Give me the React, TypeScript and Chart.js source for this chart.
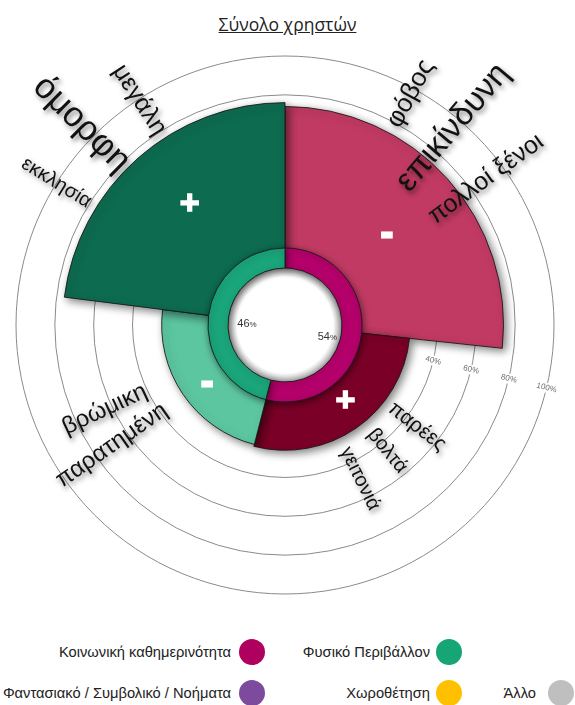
import React, { useEffect, useRef } from 'react';
import { Chart, registerables } from 'chart.js';
Chart.register(...registerables);

// ---------------- data ----------------
const sectorLabels = ['Κοινωνική καθημερινότητα (−)', 'Κοινωνική καθημερινότητα (+)', 'Φυσικό Περιβάλλον (−)', 'Φυσικό Περιβάλλον (+)'];
const sectorValues = [74, 26, 25, 76];          // radial value, % of users
const sectorShares = [26.7, 27.3, 23.0, 23.0];  // angular share of the circle, %
const sectorSigns = ['-', '+', '-', '+'];
const ringLabels = ['Κοινωνική καθημερινότητα', 'Φυσικό Περιβάλλον'];
const ringValues = [54, 46];
const tickValues = [20, 40, 60, 80, 100];
const wordTexts = ['όμορφη', 'μεγάλη', 'εκκλησία', 'φόβος', 'επικίνδυνη', 'πολλοί ξένοι', 'βρώμικη', 'παρατημένη', 'παρέες', 'βολτά', 'γειτονιά'];
const legendLabels = ['Κοινωνική καθημερινότητα', 'Φυσικό Περιβάλλον', 'Φαντασιακό / Συμβολικό / Νοήματα', 'Χωροθέτηση', 'Άλλο'];
const titleText = 'Σύνολο χρηστών';

// ---------------- styles / layout ----------------
const sectorColors = ['#c13a63', '#7a0027', '#5cc6a1', '#0d6b4f'];
const ringColors = ['#b5006b', '#1aa67a'];
const legendColors = ['#b0005f', '#16a574', '#7d4b9e', '#ffc000', '#bfbfbf'];
const FONT = '"Liberation Sans", Arial, sans-serif';
const scaleMin = -38.5;
const tickLabelAngle = 103.5;
const signLayout = [
  { angle: 48.4, value: 31.6, size: 34 },
  { angle: 141.8, value: 11.8, size: 34 },
  { angle: 232.9, value: 11.8, size: 34 },
  { angle: 321.6, value: 40.5, size: 34 },
];
const wordLayout = [
  { angle: 314.6, value: 108.7, size: 35 },
  { angle: 327.1, value: 99.5, size: 25 },
  { angle: 301.9, value: 100.1, size: 20 },
  { angle: 28.5, value: 97.0, size: 26 },
  { angle: 40.4, value: 94.9, size: 33 },
  { angle: 54.0, value: 89.4, size: 25 },
  { angle: 244.9, value: 64.0, size: 24 },
  { angle: 235.2, value: 70.2, size: 24 },
  { angle: 127.6, value: 47.3, size: 21 },
  { angle: 140.9, value: 45.0, size: 20 },
  { angle: 154.0, value: 49.5, size: 20 },
];
const pctLayout = [
  { angle: 105.6, dist: 44 },
  { angle: 271.5, dist: 38 },
];
const legendLayout = [
  { right: 231, cx: 252, cy: 652 },
  { right: 430, cx: 449, cy: 652 },
  { right: 231, cx: 252, cy: 693 },
  { right: 430, cx: 449, cy: 693 },
  { right: 536, cx: 561, cy: 693 },
];
const PAD = { left: 16, top: 16, right: 21, bottom: 26 };

const rad = (d: number) => (d * Math.PI) / 180;

function polarPoint(scale: any, angleDeg: number, value: number) {
  const d = scale.getDistanceFromCenterForValue(value);
  const a = rad(angleDeg - 90);
  return { x: scale.xCenter + Math.cos(a) * d, y: scale.yCenter + Math.sin(a) * d };
}

const decorPlugin = {
  id: 'decor',
  beforeDatasetsDraw(chart: any) {
    const s = chart.scales.r;
    const ctx = chart.ctx;
    ctx.save();
    ctx.font = `8px ${FONT}`;
    ctx.textAlign = 'center';
    ctx.textBaseline = 'middle';
    tickValues.forEach((v) => {
      const p = polarPoint(s, tickLabelAngle, v);
      const label = `${v}%`;
      const w = ctx.measureText(label).width;
      ctx.save();
      ctx.translate(p.x, p.y);
      ctx.rotate(rad(tickLabelAngle - 90));
      ctx.fillStyle = '#ffffff';
      ctx.fillRect(-w / 2 - 2, -5, w + 4, 10);
      ctx.fillStyle = '#707070';
      ctx.fillText(label, 0, 0);
      ctx.restore();
    });
    ctx.restore();
    ctx.save();
    ctx.shadowColor = 'rgba(0,0,0,0.5)';
    ctx.shadowBlur = 9;
    ctx.shadowOffsetX = 3;
    ctx.shadowOffsetY = 3;
  },
  afterDatasetsDraw(chart: any) {
    const ctx = chart.ctx;
    ctx.restore();
    const s = chart.scales.r;
    // signs
    ctx.save();
    ctx.textAlign = 'center';
    ctx.textBaseline = 'middle';
    sectorSigns.forEach((sign, i) => {
      const L = signLayout[i];
      const p = polarPoint(s, L.angle, L.value);
      ctx.font = `bold ${L.size}px ${FONT}`;
      ctx.fillStyle = '#ffffff';
      ctx.strokeStyle = '#ffffff';
      ctx.lineWidth = sign === '-' ? 3 : 1.5;
      ctx.fillText(sign, p.x, p.y);
      ctx.strokeText(sign, p.x, p.y);
    });
    ctx.restore();
    // words
    ctx.save();
    ctx.textAlign = 'center';
    ctx.textBaseline = 'middle';
    ctx.shadowColor = 'rgba(0,0,0,0.5)';
    ctx.shadowBlur = 5;
    ctx.shadowOffsetX = 2;
    ctx.shadowOffsetY = 3;
    wordTexts.forEach((t, i) => {
      const L = wordLayout[i];
      const p = polarPoint(s, L.angle, L.value);
      const rot = L.angle > 180 ? L.angle - 270 : L.angle - 90;
      ctx.save();
      ctx.translate(p.x, p.y);
      ctx.rotate(rad(rot));
      ctx.font = `${L.size}px ${FONT}`;
      ctx.fillStyle = '#111111';
      ctx.fillText(t, 0, 0);
      ctx.restore();
    });
    ctx.restore();
  },
};

const ringPlugin = {
  id: 'ringDecor',
  beforeDatasetsDraw(chart: any) {
    const ctx = chart.ctx;
    const arc = chart.getDatasetMeta(0).data[0];
    if (!arc) return;
    const { x, y, innerRadius } = arc;
    ctx.save();
    ctx.beginPath();
    ctx.arc(x, y, innerRadius, 0, Math.PI * 2);
    ctx.fillStyle = '#ffffff';
    ctx.fill();
    const g = ctx.createRadialGradient(x, y, innerRadius - 9, x, y, innerRadius);
    g.addColorStop(0, 'rgba(0,0,0,0)');
    g.addColorStop(1, 'rgba(0,0,0,0.3)');
    ctx.fillStyle = g;
    ctx.fill();
    ctx.restore();
    ctx.save();
    ctx.shadowColor = 'rgba(0,0,0,0.5)';
    ctx.shadowBlur = 7;
    ctx.shadowOffsetX = 1;
    ctx.shadowOffsetY = 2;
  },
  afterDatasetsDraw(chart: any) {
    const ctx = chart.ctx;
    ctx.restore();
    const arc = chart.getDatasetMeta(0).data[0];
    if (!arc) return;
    const { x, y } = arc;
    ctx.save();
    ctx.textBaseline = 'middle';
    ctx.fillStyle = '#333333';
    ringValues.forEach((v, i) => {
      const L = pctLayout[i];
      const a = rad(L.angle - 90);
      const px = x + Math.cos(a) * L.dist;
      const py = y + Math.sin(a) * L.dist;
      ctx.font = `11px ${FONT}`;
      const num = String(v);
      const w1 = ctx.measureText(num).width;
      ctx.font = `8px ${FONT}`;
      const w2 = ctx.measureText('%').width;
      const x0 = px - (w1 + w2) / 2;
      ctx.textAlign = 'left';
      ctx.font = `11px ${FONT}`;
      ctx.fillText(num, x0, py);
      ctx.font = `8px ${FONT}`;
      ctx.fillText('%', x0 + w1, py + 1);
    });
    ctx.restore();
  },
};

export default function App() {
  const polarRef = useRef<HTMLCanvasElement>(null);
  const ringRef = useRef<HTMLCanvasElement>(null);

  useEffect(() => {
    const polar = new Chart(polarRef.current as HTMLCanvasElement, {
      type: 'polarArea',
      data: {
        labels: sectorLabels,
        datasets: [
          {
            data: sectorValues,
            angle: sectorShares.map((s) => s * 3.6),
            backgroundColor: sectorColors,
            borderColor: 'rgba(25,20,20,0.85)',
            borderWidth: 1,
          } as any,
        ],
      },
      options: {
        responsive: false,
        animation: false,
        layout: { padding: PAD },
        plugins: { legend: { display: false }, tooltip: { enabled: false } },
        scales: {
          r: {
            min: scaleMin,
            max: 100,
            startAngle: 0,
            beginAtZero: false,
            ticks: { display: false, stepSize: 20 },
            grid: {
              circular: true,
              lineWidth: 1,
              color: (c: any) => (c.tick && c.tick.value >= 20 ? '#8a8a8a' : 'rgba(0,0,0,0)'),
            },
            angleLines: { display: false },
            pointLabels: { display: false },
          } as any,
        },
      },
      plugins: [decorPlugin],
    });

    const ring = new Chart(ringRef.current as HTMLCanvasElement, {
      type: 'doughnut',
      data: {
        labels: ringLabels,
        datasets: [
          {
            data: ringValues,
            backgroundColor: ringColors,
            borderColor: 'rgba(25,25,25,0.9)',
            borderWidth: 1,
          },
        ],
      },
      options: {
        responsive: false,
        animation: false,
        radius: 77,
        cutout: '74%',
        rotation: 0,
        layout: { padding: PAD },
        plugins: { legend: { display: false }, tooltip: { enabled: false } },
      } as any,
      plugins: [ringPlugin],
    });

    return () => {
      polar.destroy();
      ring.destroy();
    };
  }, []);

  return (
    <div style={{ position: 'absolute', left: 0, top: 0, width: 575, height: 705, overflow: 'hidden', background: '#ffffff', fontFamily: FONT }}>
      <div style={{ position: 'absolute', left: 0, top: 13, width: 575, textAlign: 'center', fontFamily: '"Open Sans", sans-serif', fontSize: 17.5, lineHeight: '22px', textDecoration: 'underline', color: '#222' }}>
        {titleText}
      </div>
      <canvas ref={polarRef} width={575} height={580} style={{ position: 'absolute', left: 0, top: 40, width: 575, height: 580 }} />
      <canvas ref={ringRef} width={575} height={580} style={{ position: 'absolute', left: 0, top: 40, width: 575, height: 580 }} />
      {legendLabels.map((t, i) => {
        const L = legendLayout[i];
        return (
          <React.Fragment key={t}>
            <div style={{ position: 'absolute', right: 575 - L.right, top: L.cy - 10, lineHeight: '20px', fontSize: 14.7, color: '#222', whiteSpace: 'nowrap' }}>{t}</div>
            <div style={{ position: 'absolute', left: L.cx - 13, top: L.cy - 13, width: 26, height: 26, borderRadius: '50%', background: legendColors[i] }} />
          </React.Fragment>
        );
      })}
    </div>
  );
}
